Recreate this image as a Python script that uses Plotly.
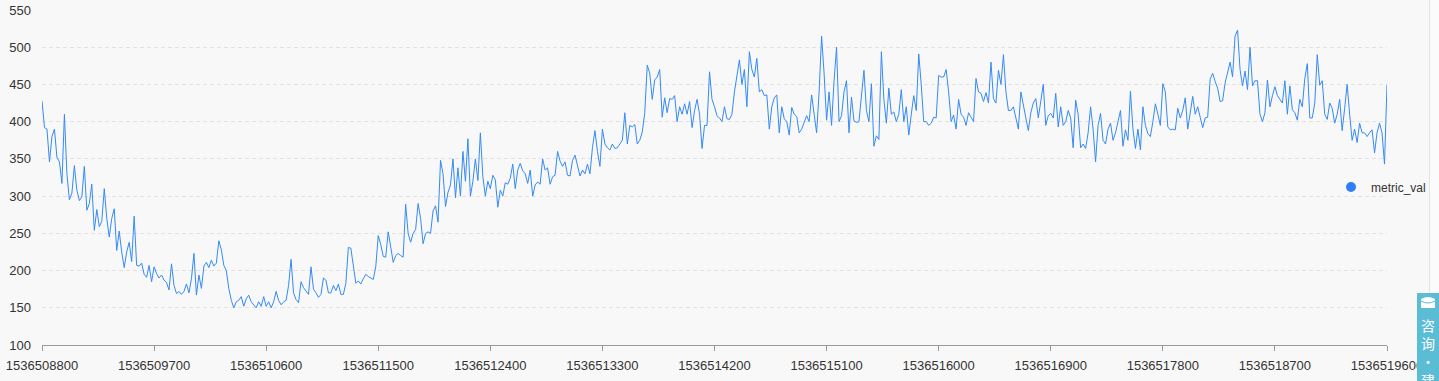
import plotly.graph_objects as go

series_name = "metric_val"
start_ts = 1536508800
end_ts = 1536519600
step_s = 20

metric_val = [
    428, 392, 390, 346, 380, 390, 352, 346, 317, 410,
    330, 295, 304, 341, 308, 294, 299, 340, 281, 290,
    316, 254, 282, 259, 266, 310, 270, 245, 270, 283,
    227, 253, 225, 204, 225, 238, 212, 273, 207, 206,
    210, 195, 191, 207, 185, 205, 196, 190, 194, 187,
    184, 174, 209, 180, 169, 172, 168, 172, 182, 170,
    189, 223, 167, 194, 176, 206, 211, 204, 214, 206,
    210, 240, 228, 207, 200, 176, 160, 150, 158, 160,
    165, 152, 162, 167, 158, 154, 150, 158, 152, 165,
    152, 158, 150, 158, 172, 160, 154, 158, 160, 180,
    215, 170, 161, 157, 185, 177, 172, 168, 205, 175,
    170, 164, 168, 190, 187, 170, 170, 180, 173, 182,
    168, 168, 183, 231, 230, 205, 183, 186, 182, 189,
    195, 192, 190, 188, 205, 247, 235, 219, 218, 252,
    232, 211, 220, 223, 220, 218, 289, 250, 238, 250,
    255, 290, 270, 236, 250, 252, 250, 280, 287, 265,
    348, 330, 286, 305, 315, 350, 298, 338, 300, 360,
    320, 377, 300, 320, 350, 321, 385, 326, 300, 320,
    310, 328, 322, 285, 308, 300, 318, 316, 324, 343,
    310, 335, 344, 334, 330, 317, 335, 300, 315, 319,
    316, 350, 335, 338, 316, 326, 328, 360, 347, 340,
    346, 328, 327, 348, 355, 340, 327, 335, 330, 343,
    330, 365, 388, 360, 340, 390, 370, 365, 362, 370,
    364, 365, 370, 375, 412, 370, 395, 393, 396, 370,
    375, 386, 412, 476, 465, 430, 456, 460, 470, 406,
    432, 412, 431, 430, 435, 400, 420, 410, 424, 410,
    427, 392, 415, 430, 410, 364, 395, 395, 467, 430,
    420, 408, 405, 400, 420, 404, 403, 410, 440, 460,
    483, 450, 470, 420, 494, 470, 460, 485, 440, 443,
    435, 436, 390, 420, 432, 436, 385, 420, 404, 400,
    382, 419, 410, 407, 385, 390, 398, 408, 400, 436,
    410, 385, 440, 515, 465, 402, 440, 395, 455, 500,
    400, 408, 440, 455, 385, 433, 401, 399, 400, 430,
    469, 415, 400, 451, 367, 381, 376, 494, 430, 398,
    445, 410, 413, 400, 410, 443, 400, 420, 382, 410,
    435, 415, 491, 450, 400, 400, 395, 398, 406, 405,
    462, 460, 460, 470, 440, 400, 409, 390, 430, 410,
    406, 395, 412, 406, 400, 458, 440, 438, 427, 439,
    425, 480, 431, 425, 469, 450, 490, 440, 415, 415,
    420, 405, 390, 440, 420, 405, 388, 412, 425, 431,
    405, 430, 450, 395, 408, 411, 405, 438, 393, 420,
    395, 400, 415, 405, 365, 429, 410, 365, 370, 364,
    385, 420, 390, 346, 395, 411, 375, 370, 390, 398,
    375, 385, 400, 415, 367, 389, 375, 441, 390, 364,
    390, 362, 420, 395, 384, 380, 400, 424, 410, 395,
    451, 440, 393, 389, 390, 389, 418, 405, 415, 432,
    390, 410, 434, 410, 420, 406, 392, 405, 406, 457,
    465, 454, 445, 427, 428, 452, 465, 480, 460, 515,
    523, 470, 448, 468, 443, 500, 448, 455, 455, 410,
    400, 412, 456, 420, 435, 447, 435, 430, 425, 455,
    410, 448, 416, 412, 402, 430, 420, 458, 478, 405,
    405, 425, 490, 449, 455, 410, 403, 425, 418, 398,
    410, 430, 388, 418, 450, 410, 375, 390, 372, 398,
    385, 385, 380, 385, 389, 358, 385, 398, 385, 343,
    450,
]
timestamps = [start_ts + step_s * i for i in range(len(metric_val))]

x_tick_vals = list(range(start_ts, end_ts + 1, 900))
x_tick_text = [str(v) for v in x_tick_vals]
y_tick_vals = [100, 150, 200, 250, 300, 350, 400, 450, 500, 550]

widget_text = "咨<br>询<br>·<br>建"

LINE_COLOR = "#358af5"
DOT_COLOR = "#2f7ff7"
BG = "#f8f8f8"
FONT = "Liberation Sans, Arial, sans-serif"

fig = go.Figure()
fig.add_trace(go.Scatter(
    x=timestamps, y=metric_val, mode="lines", name=series_name,
    line=dict(color=LINE_COLOR, width=1), showlegend=False,
))
fig.add_trace(go.Scatter(
    x=[None], y=[None], mode="markers", name=series_name,
    marker=dict(color=DOT_COLOR, size=10), showlegend=True,
))

W, H = 1439, 381
L, R, T, B = 42, 52, 10, 36
pw, ph = W - L - R, H - T - B

def px(xp):
    return (xp - L) / pw

def py(yp):
    return (H - B - yp) / ph

fig.update_layout(
    width=W, height=H,
    margin=dict(l=L, r=R, t=T, b=B, pad=0, autoexpand=False),
    paper_bgcolor=BG, plot_bgcolor=BG,
    font=dict(family=FONT, size=13, color="#333333"),
    legend=dict(x=px(1331), y=py(187), xanchor="left", yanchor="middle",
                bgcolor="rgba(0,0,0,0)", font=dict(size=12, color="#333333"),
                itemwidth=30),
    xaxis=dict(
        range=[start_ts, end_ts], tickvals=x_tick_vals, ticktext=x_tick_text,
        showgrid=False, zeroline=False, showline=True, linecolor="#999999",
        linewidth=1, ticks="outside", ticklen=5, tickcolor="#999999",
        tickfont=dict(size=13, color="#333333"), ticklabelstandoff=3,
        automargin=False,
    ),
    yaxis=dict(
        range=[100, 550], tickvals=y_tick_vals, showgrid=True,
        gridcolor="#e2e2e2", griddash="4px,3px", gridwidth=1,
        zeroline=False, showline=False, ticks="",
        tickfont=dict(size=13, color="#333333"), ticklabelstandoff=10,
        automargin=False,
    ),
)

shapes = [
    dict(type="rect", xref="paper", yref="paper", x0=px(1429.5), x1=px(1441),
         y0=py(293), y1=py(-2), fillcolor="#fbfbfb", line=dict(width=0), layer="below"),
    dict(type="line", xref="paper", yref="paper", x0=px(1429.5), x1=px(1429.5),
         y0=py(293), y1=py(-2), line=dict(color="#e4e4e4", width=1)),
    dict(type="rect", xref="paper", yref="paper", x0=px(1417), x1=px(1441),
         y0=py(383), y1=py(293), fillcolor="#5bbcd6", line=dict(width=0)),
    dict(type="rect", xref="paper", yref="paper", x0=px(1421), x1=px(1435),
         y0=py(308), y1=py(299), fillcolor="#ffffff", line=dict(width=0)),
    dict(type="path", xref="paper", yref="paper",
         path=f"M {px(1421)} {py(299)} Q {px(1428)} {py(295)} {px(1435)} {py(299)} Z",
         fillcolor="#ffffff", line=dict(width=0)),
    dict(type="path", xref="paper", yref="paper",
         path=f"M {px(1421)} {py(301)} Q {px(1428)} {py(305)} {px(1435)} {py(301)}",
         line=dict(color="#5bbcd6", width=1)),
]
fig.update_layout(shapes=shapes)

fig.add_annotation(
    x=px(1428), y=py(313), xref="paper", yref="paper", text=widget_text,
    showarrow=False, xanchor="center", yanchor="top", align="center",
    font=dict(family="Noto Sans CJK SC", size=14, color="#ffffff"),
)

fig.write_html("out.html")
